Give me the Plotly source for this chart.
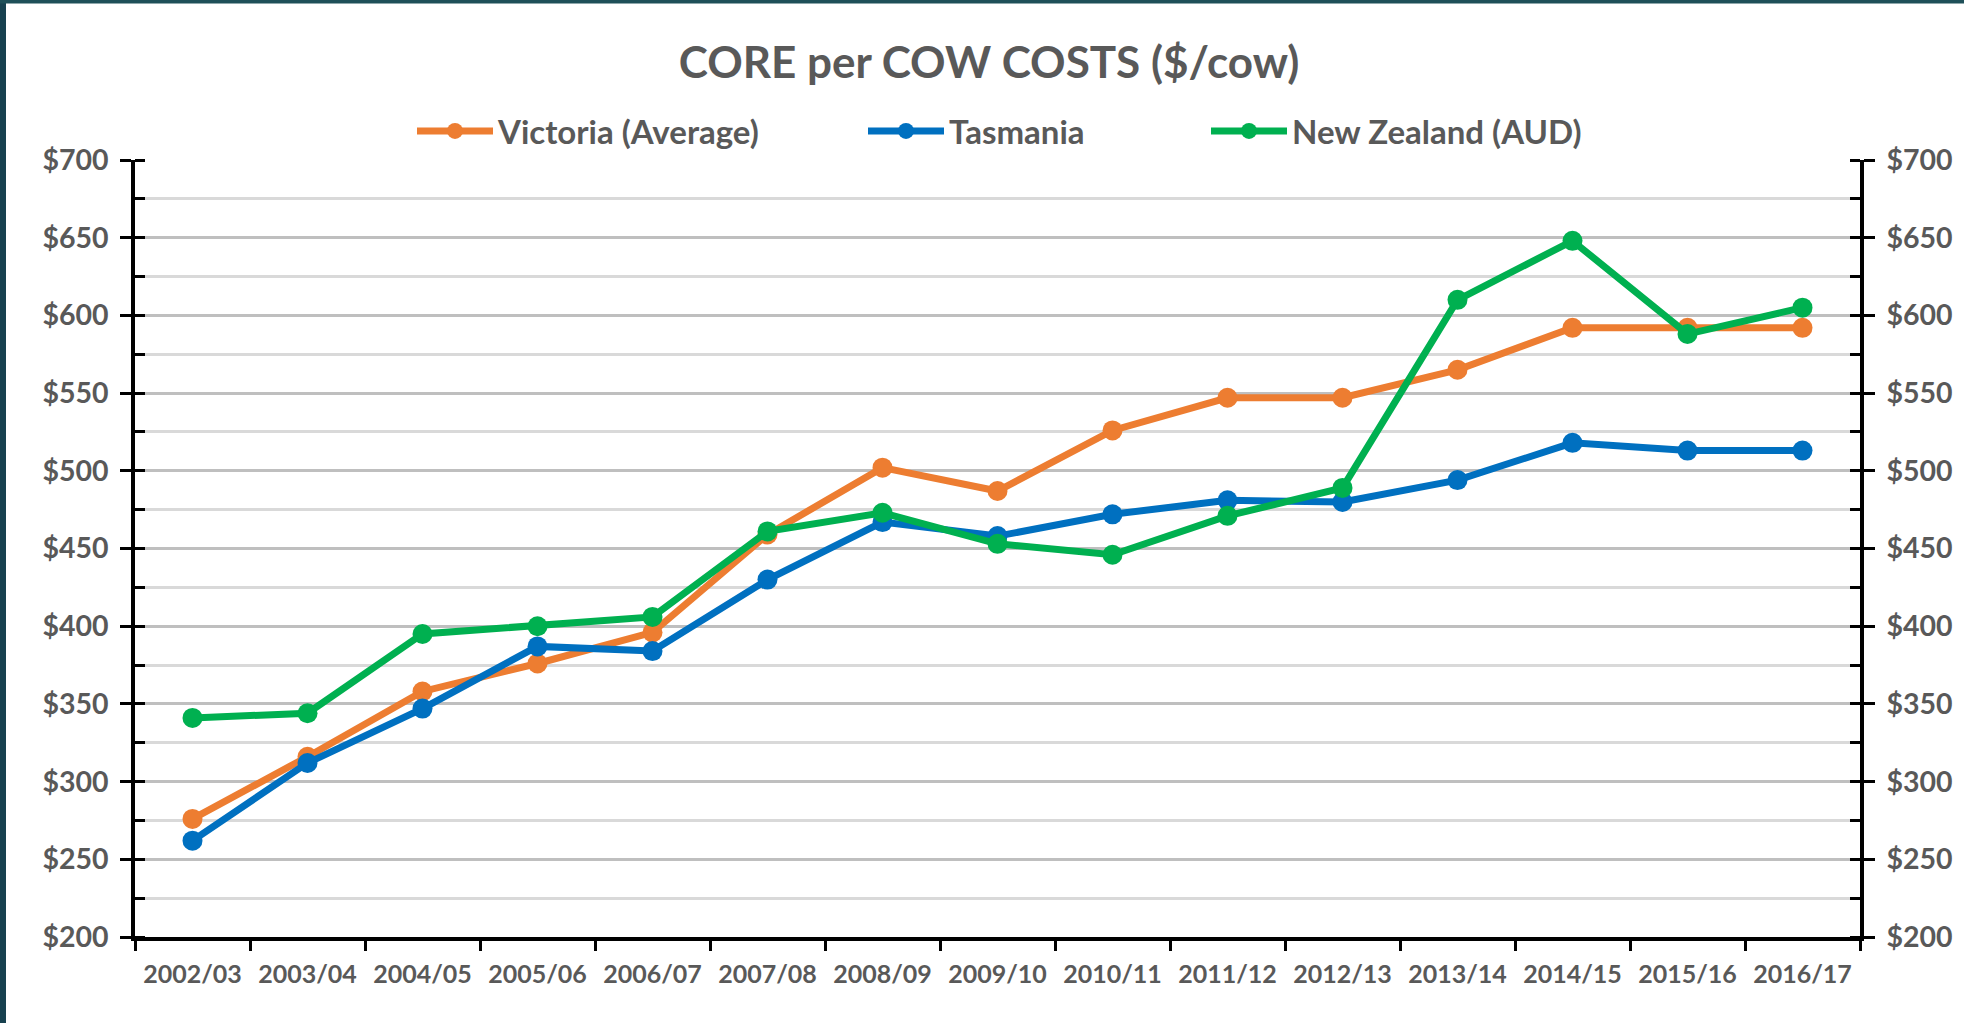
import plotly.graph_objects as go

# Core per-cow costs by season ($/cow)
seasons = ["2002/03", "2003/04", "2004/05", "2005/06", "2006/07", "2007/08", "2008/09",
           "2009/10", "2010/11", "2011/12", "2012/13", "2013/14", "2014/15", "2015/16", "2016/17"]
victoria = [276, 316, 358, 376, 396, 459, 502, 487, 526, 547, 547, 565, 592, 592, 592]
tasmania = [262, 312, 347, 387, 384, 430, 467, 458, 472, 481, 480, 494, 518, 513, 513]
new_zealand = [341, 344, 395, 400, 406, 461, 473, 453, 446, 471, 489, 610, 648, 588, 605]

series_names = ["Victoria (Average)", "Tasmania", "New Zealand (AUD)"]
series_colors = ["#ED7D31", "#0070C0", "#00B050"]
y_ticks = list(range(200, 701, 50))
y_tick_text = [f"${v}" for v in y_ticks]

FONT = "Lato"
TEXT = "#595959"

W, H = 1964, 1023
ML, MR, MT, MB = 135, 104, 160, 86
PW, PH = W - ML - MR, H - MT - MB


def px_x(px):
    return (px - ML) / PW


def px_y(py):
    return (H - MB - py) / PH


fig = go.Figure()
legend_ids = ["legend", "legend2", "legend3"]
for name, vals, col, lg in zip(series_names, [victoria, tasmania, new_zealand], series_colors, legend_ids):
    fig.add_trace(go.Scatter(
        x=seasons, y=vals, name=name, mode="lines+markers",
        line=dict(color=col, width=7),
        marker=dict(color=col, size=20),
        legend=lg,
    ))

# transparent carriers so the right-hand and tick-only value axes get drawn
for ax in ["y2", "y3", "y4"]:
    fig.add_trace(go.Scatter(
        x=seasons, y=victoria, yaxis=ax, mode="lines",
        line=dict(width=0), opacity=0, showlegend=False, hoverinfo="skip",
    ))

tickfont_y = dict(family=FONT, size=28.5, color=TEXT, weight="bold")
common_y = dict(range=[200, 700], tickmode="array", tickvals=y_ticks, fixedrange=True)

legend_style = dict(
    orientation="h", yref="paper", y=px_y(131), yanchor="middle", xanchor="left",
    font=dict(family=FONT, size=33, color=TEXT, weight="bold"),
    bgcolor="rgba(0,0,0,0)", itemwidth=76, tracegroupgap=0,
)

fig.update_layout(
    width=W, height=H,
    margin=dict(l=ML, r=MR, t=MT, b=MB, autoexpand=False),
    paper_bgcolor="white", plot_bgcolor="white",
    title=dict(
        text="CORE per COW COSTS ($/cow)",
        font=dict(family=FONT, size=44, color=TEXT, weight="bold"),
        xref="container", x=989 / W, xanchor="center",
        yref="container", y=1 - 63 / H, yanchor="middle",
    ),
    showlegend=True,
    legend=dict(legend_style, x=px_x(412)),
    legend2=dict(legend_style, x=px_x(863)),
    legend3=dict(legend_style, x=px_x(1206)),
    xaxis=dict(
        type="category", categoryorder="array", categoryarray=seasons,
        range=[-0.5, len(seasons) - 0.5],
        showgrid=False, showline=True, linecolor="black", linewidth=3.5,
        ticks="outside", tickson="boundaries", ticklen=10, tickwidth=3, tickcolor="black",
        tickfont=dict(family=FONT, size=25, color=TEXT, weight="bold"),
        ticklabelstandoff=12, fixedrange=True,
    ),
    yaxis=dict(
        common_y, ticktext=y_tick_text, side="left",
        showline=True, linecolor="black", linewidth=3.5,
        ticks="outside", ticklen=11, tickwidth=3, tickcolor="black",
        tickfont=tickfont_y, ticklabelstandoff=6,
        showgrid=True, gridcolor="#BFBFBF", gridwidth=2.5,
        minor=dict(dtick=25, tick0=200, showgrid=True, gridcolor="#D9D9D9", gridwidth=2.5,
                   ticks="inside", ticklen=10, tickwidth=3, tickcolor="black"),
        zeroline=False,
    ),
    yaxis2=dict(
        common_y, ticktext=y_tick_text, side="right", overlaying="y", anchor="x",
        showline=True, linecolor="black", linewidth=3.5,
        ticks="outside", ticklen=11, tickwidth=3, tickcolor="black",
        tickfont=tickfont_y, ticklabelstandoff=6,
        showgrid=False, zeroline=False,
        minor=dict(dtick=25, tick0=200, showgrid=False,
                   ticks="inside", ticklen=10, tickwidth=3, tickcolor="black"),
    ),
    # inner halves of the major ticks on both value axes
    yaxis3=dict(
        common_y, side="left", overlaying="y", anchor="x", showticklabels=False,
        showline=False, showgrid=False, zeroline=False,
        ticks="inside", ticklen=10, tickwidth=3, tickcolor="black",
    ),
    yaxis4=dict(
        common_y, side="right", overlaying="y", anchor="x", showticklabels=False,
        showline=False, showgrid=False, zeroline=False,
        ticks="inside", ticklen=10, tickwidth=3, tickcolor="black",
    ),
)

# dark slide frame along the left and top edges
frame = "#17414F"
fig.add_shape(type="rect", xref="paper", yref="paper", layer="below",
              x0=px_x(0), x1=px_x(6), y0=px_y(H), y1=px_y(0),
              fillcolor=frame, line=dict(width=0))
fig.add_shape(type="rect", xref="paper", yref="paper", layer="below",
              x0=px_x(0), x1=px_x(W), y0=px_y(3.5), y1=px_y(0),
              fillcolor="#1F5059", line=dict(width=0))

fig.write_html("out.html", config=dict(displayModeBar=False))
